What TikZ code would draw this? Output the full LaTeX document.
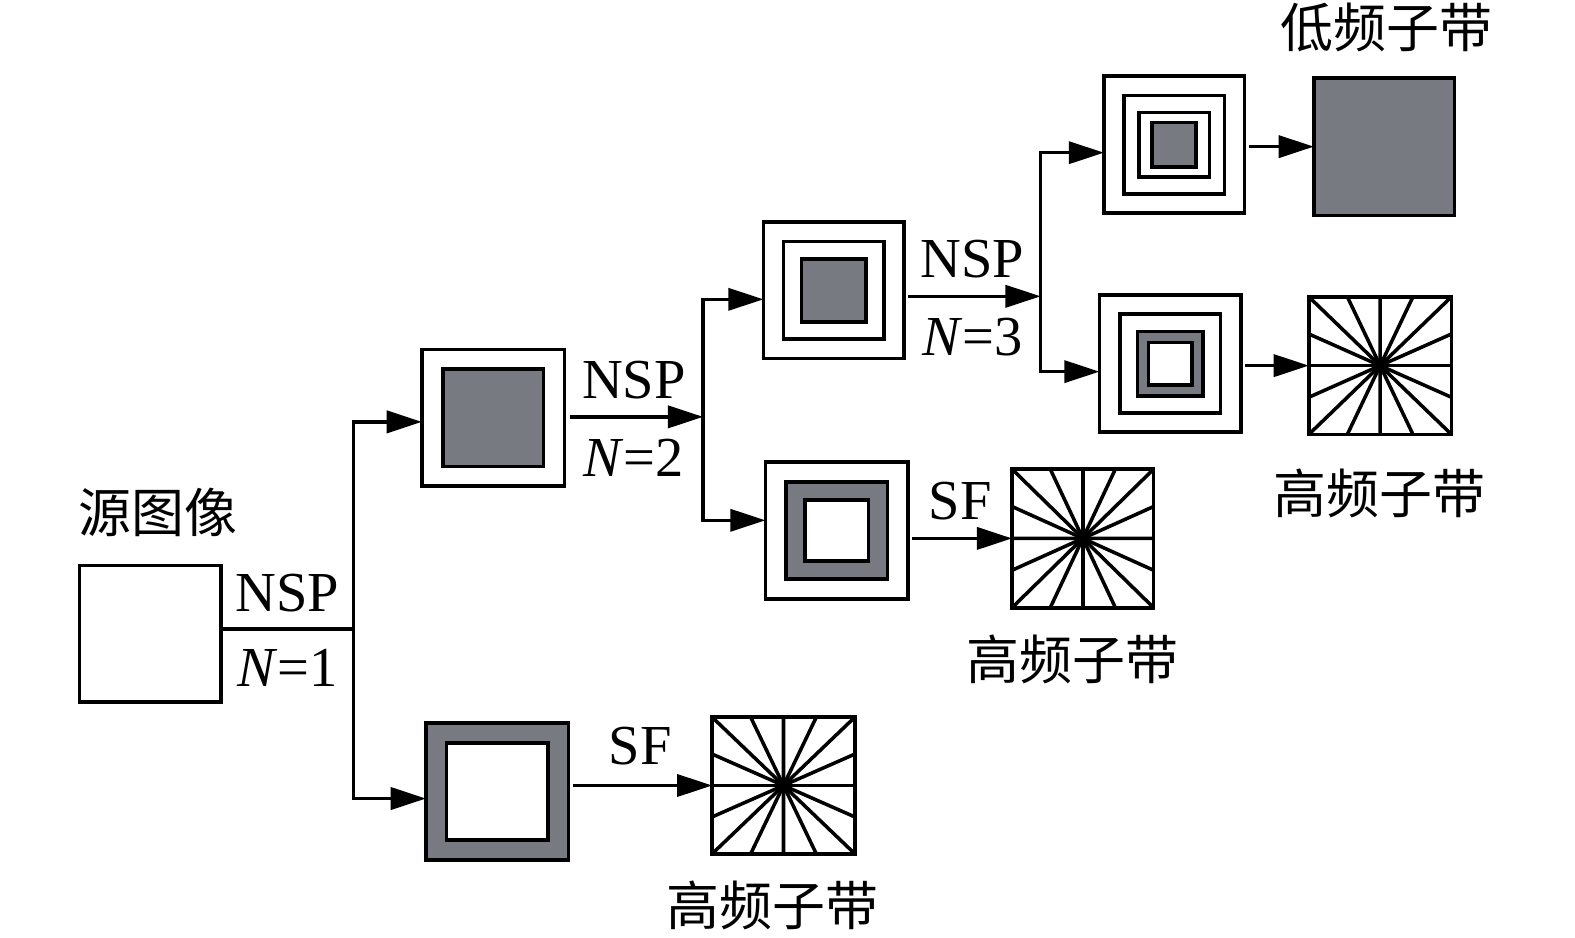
\documentclass[tikz,border=0pt]{standalone}
\usepackage{fontspec}
\setmainfont{Liberation Serif}
\newfontfamily\cjk{Noto Sans CJK SC}
\usetikzlibrary{arrows.meta,positioning,calc}
\definecolor{bandgray}{RGB}{119,122,128}

\tikzset{
  pane/.style 2 args={draw, line width=2.1pt, inner sep=0pt, outer sep=0pt,
    minimum width=#1*0.02cm, minimum height=#2*0.02cm},
  wire/.style={line width=2pt},
  arr/.style={wire, -{Triangle[length=0.7cm,width=0.44cm]}},
  tag/.style={font=\fontsize{32}{36}\selectfont, inner sep=0pt},
  cn/.style={font=\cjk\fontsize{30}{34}\selectfont, inner sep=0pt},
}

\begin{document}
\begin{tikzpicture}[x=0.02cm, y=-0.02cm]
    \useasboundingbox (0,0) rectangle (1568,933);

    % Source
    \node[pane={141}{136}] (src) at (149.5,631) {};
    \node[cn] at ($(src.north)+(8,-53)$) {源图像};
    \coordinate (sp1) at (352,626);
    \draw[wire] (src.east |- sp1) -- node[tag, above=0.3cm] {NSP}
        node[tag, below=0.38cm] {\textit{N}=1} (sp1);

    % Level 1
    \node[pane={142}{136}] (lp1) at (491,416) {};
    \node[pane={100}{97}, fill=bandgray] (lp1in) at (lp1) {};
    \node[pane={142}{136}, fill=bandgray] (hp1) at (495,788) {};
    \node[pane={101}{96}, fill=white] (hp1in) at (hp1) {};
    \draw[arr] (sp1) |- ([yshift=-0.08cm]lp1.west);
    \draw[arr] (sp1) |- ([yshift=-0.14cm]hp1.west);

    \node[pane={142}{136}] (star1) at (780,782) {};
    \draw[arr, shorten <=0.08cm] (hp1.east |- star1) -- node[tag, above=0.38cm] {SF} (star1);
    \node[cn] at ($(star1.south)+(-11,51)$) {高频子带};

    \coordinate (sp2) at (700,415);
    \draw[arr, shorten <=0.1cm] (lp1.east |- sp2) -- node[tag, above=0.32cm] {NSP}
        node[tag, below=0.4cm] {\textit{N}=2} (sp2);

    % Level 2
    \node[pane={140}{136}] (lp2) at (830,289) {};
    \node[pane={100}{97}] (lp2mid) at (lp2) {};
    \node[pane={64}{63}, fill=bandgray] (lp2in) at (lp2) {};
    \node[pane={142}{136}] (hp2) at (833,528) {};
    \node[pane={101}{97}, fill=bandgray] (hp2mid) at (hp2) {};
    \node[pane={63}{61}, fill=white] (hp2in) at (hp2) {};
    \draw[arr] (sp2) |- ([yshift=-0.18cm]lp2.west);
    \draw[arr] (sp2) |- ([yshift=0.2cm]hp2.west);

    \node[pane={141}{138}] (star2) at (1078,536) {};
    \draw[arr, shorten <=0.08cm] (hp2.east |- star2) -- node[tag, above=0.34cm] {SF} (star2);
    \node[cn] at ($(star2.south)+(-10,51)$) {高频子带};

    \coordinate (sp3) at (1036,295);
    \draw[arr, shorten <=0.08cm] (lp2.east |- sp3) -- node[tag, above=0.32cm] {NSP}
        node[tag, below=0.4cm] {\textit{N}=3} (sp3);

    % Level 3
    \node[pane={140}{136}] (lp3) at (1169,144) {};
    \node[pane={100}{98}] (lp3mid) at (lp3) {};
    \node[pane={70}{64}] (lp3sub) at (lp3) {};
    \node[pane={44}{44}, fill=bandgray] (lp3in) at (lp3) {};
    \node[pane={141}{136}] (hp3) at (1165,362) {};
    \node[pane={100}{99}] (hp3mid) at (hp3) {};
    \node[pane={65}{64}, fill=bandgray] (hp3sub) at (hp3) {};
    \node[pane={43}{42}, fill=white] (hp3in) at (hp3) {};
    \draw[arr] (sp3) |- ([yshift=-0.16cm]lp3.west);
    \draw[arr] (sp3) |- ([yshift=-0.16cm]hp3.west);

    \node[pane={140}{137}, fill=bandgray] (low) at (1378,146) {};
    \draw[arr, shorten <=0.08cm] (lp3.east |- low) -- (low);
    \node[cn] at ($(low.north)+(2,-50)$) {低频子带};
    \node[pane={142}{137}] (star3) at (1374,364) {};
    \draw[arr, shorten <=0.08cm] (hp3.east |- star3) -- (star3);
    \node[cn] at ($(star3.south)+(-1,59)$) {高频子带};

    % directional rays
    \foreach \s in {star1,star2,star3}
      \foreach \f in {0,0.27,0.5,0.73} {
        \draw[wire] (\s.center) -- ($(\s.north west)!\f!(\s.north east)$);
        \draw[wire] (\s.center) -- ($(\s.north east)!\f!(\s.south east)$);
        \draw[wire] (\s.center) -- ($(\s.south east)!\f!(\s.south west)$);
        \draw[wire] (\s.center) -- ($(\s.south west)!\f!(\s.north west)$);
      }
\end{tikzpicture}
\end{document}
